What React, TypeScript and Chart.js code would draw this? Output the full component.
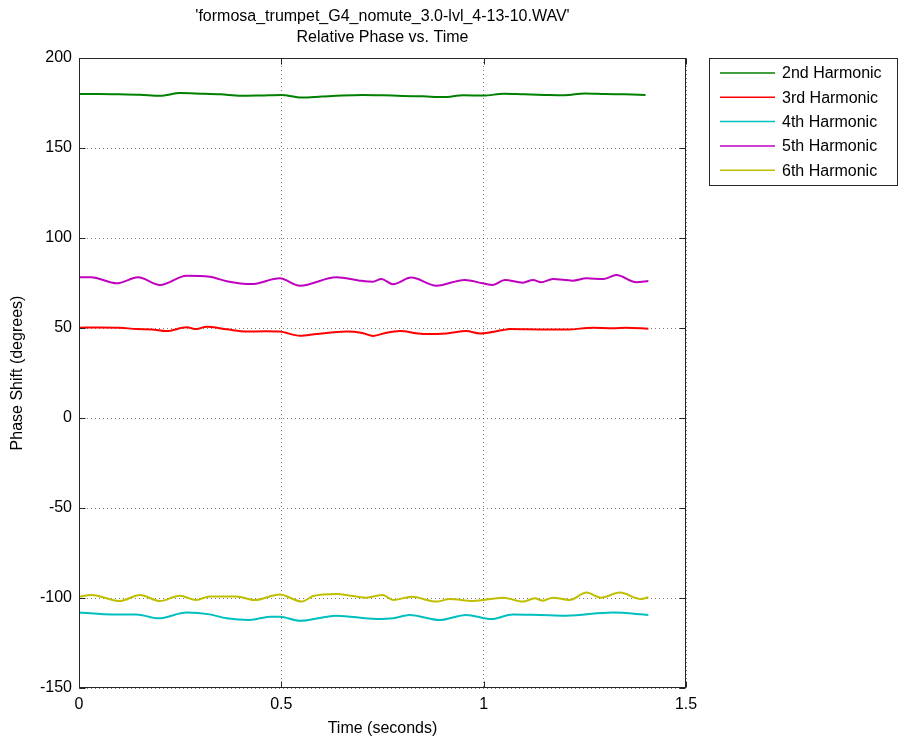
import { useEffect, useRef } from "react";
import { Chart, registerables } from "chart.js";

Chart.register(...registerables);

const TITLE_LINES = ["'formosa_trumpet_G4_nomute_3.0-lvl_4-13-10.WAV'", "Relative Phase vs. Time"];
const X_LABEL = "Time (seconds)";
const Y_LABEL = "Phase Shift (degrees)";
const X_TICKS = [0, 0.5, 1, 1.5];
const Y_TICKS = [-150, -100, -50, 0, 50, 100, 150, 200];

const SERIES_NAMES = ["2nd Harmonic", "3rd Harmonic", "4th Harmonic", "5th Harmonic", "6th Harmonic"];
const SERIES_COLORS = ["#008000", "#ff0000", "#00bfbf", "#bf00bf", "#bfbf00"];

// 2nd harmonic
const H2_T = [0, 0.05, 0.1, 0.15, 0.2, 0.25, 0.3, 0.35, 0.4, 0.45, 0.5, 0.55, 0.6, 0.65, 0.7, 0.75, 0.8, 0.85, 0.9, 0.95, 1.0, 1.05, 1.1, 1.15, 1.2, 1.25, 1.3, 1.35, 1.4];
const H2_V = [180, 180, 179.8, 179.6, 179, 180.5, 180.2, 179.8, 179, 179.2, 179.5, 178, 178.6, 179.2, 179.5, 179.3, 178.9, 178.7, 178.3, 179.3, 179.1, 180.2, 179.8, 179.5, 179.3, 180.3, 180, 179.8, 179.5];

// 3rd harmonic
const H3_T = [0, 0.05, 0.1, 0.142, 0.18, 0.216, 0.266, 0.29, 0.315, 0.365, 0.414, 0.46, 0.496, 0.546, 0.587, 0.661, 0.7, 0.727, 0.76, 0.793, 0.85, 0.908, 0.957, 0.99, 1.048, 1.064, 1.155, 1.204, 1.27, 1.319, 1.352, 1.407];
const H3_V = [50.2, 50.3, 50.2, 49.4, 49.2, 48.3, 50.4, 49.4, 50.7, 49.3, 48, 48.2, 48, 45.7, 46.7, 48, 47.2, 45.6, 47.4, 48.3, 46.7, 47, 48.3, 47, 48.9, 49.4, 49.1, 49.1, 50.2, 49.8, 50.2, 49.6];

// 4th harmonic
const H4_T = [0, 0.085, 0.142, 0.196, 0.266, 0.323, 0.365, 0.422, 0.472, 0.496, 0.546, 0.636, 0.735, 0.776, 0.817, 0.891, 0.957, 1.019, 1.072, 1.138, 1.204, 1.319, 1.407];
const H4_V = [-108, -109.1, -109.1, -111.3, -108.1, -109.1, -111.3, -112.2, -110.4, -110.4, -112.6, -109.8, -111.7, -111.3, -109.4, -112.2, -109.4, -111.7, -109.1, -109.4, -109.8, -108.1, -109.4];

// 5th harmonic
const H5_T = [0, 0.03, 0.093, 0.146, 0.2, 0.266, 0.323, 0.365, 0.426, 0.496, 0.546, 0.636, 0.694, 0.726, 0.747, 0.776, 0.821, 0.883, 0.953, 0.998, 1.023, 1.052, 1.097, 1.122, 1.142, 1.171, 1.22, 1.254, 1.295, 1.328, 1.377, 1.407];
const H5_V = [78.2, 78.2, 74.8, 78.2, 73.9, 79, 78.5, 76, 74.4, 77.6, 73.5, 78.2, 76.3, 75.7, 77.2, 74.3, 78, 73.5, 76.7, 74.8, 73.9, 76.7, 75.2, 76.7, 75.4, 77.2, 76.3, 77.6, 77.2, 79.4, 75.4, 76.1];

// 6th harmonic
const H6_T = [0, 0.031, 0.1, 0.151, 0.2, 0.249, 0.29, 0.323, 0.389, 0.434, 0.496, 0.55, 0.579, 0.636, 0.677, 0.71, 0.751, 0.776, 0.822, 0.883, 0.916, 0.974, 1.048, 1.097, 1.126, 1.146, 1.171, 1.212, 1.254, 1.29, 1.336, 1.389, 1.407];
const H6_V = [-99.3, -98.3, -101.7, -98.3, -101.7, -98.7, -101.1, -99.1, -99.1, -101.1, -98, -102, -98.9, -97.8, -98.9, -99.8, -98.3, -101.1, -99.3, -102, -100.6, -101.7, -99.8, -102, -100.2, -101.5, -99.8, -101.1, -97, -99.8, -97, -100.6, -99.6];

const SERIES_T = [H2_T, H3_T, H4_T, H5_T, H6_T];
const SERIES_V = [H2_V, H3_V, H4_V, H5_V, H6_V];

const FONT = "'Liberation Sans', Arial, Helvetica, sans-serif";
const AXIS_COLOR = "#262626";

// Boxed axes with inward tick marks, plus a boxed legend to the right of the plot
const framePlugin = {
  id: "frame",
  afterDraw(chart: any) {
    const { ctx, chartArea: a, scales } = chart;
    const xs = scales.x;
    const ys = scales.y;
    ctx.save();
    ctx.strokeStyle = AXIS_COLOR;
    ctx.lineWidth = 1;
    const L = Math.round(a.left) + 0.5;
    const R = Math.round(a.right) - 0.5;
    const T = Math.round(a.top) + 0.5;
    const B = Math.round(a.bottom) - 0.5;
    ctx.strokeRect(L, T, R - L, B - T);
    const tick = 6;
    ctx.beginPath();
    for (const v of X_TICKS) {
      const px = Math.round(xs.getPixelForValue(v)) + 0.5;
      ctx.moveTo(px, B);
      ctx.lineTo(px, B - tick);
      ctx.moveTo(px, T);
      ctx.lineTo(px, T + tick);
    }
    for (const v of Y_TICKS) {
      const py = Math.round(ys.getPixelForValue(v)) + 0.5;
      ctx.moveTo(L, py);
      ctx.lineTo(L + tick, py);
      ctx.moveTo(R, py);
      ctx.lineTo(R - tick, py);
    }
    ctx.stroke();

    // legend
    const lx = 709.5;
    const ly = 58.5;
    const lw = 188;
    const lh = 127;
    ctx.fillStyle = "#ffffff";
    ctx.fillRect(lx, ly, lw, lh);
    ctx.strokeStyle = AXIS_COLOR;
    ctx.strokeRect(lx, ly, lw, lh);
    ctx.font = `16px ${FONT}`;
    ctx.textBaseline = "middle";
    ctx.textAlign = "left";
    chart.data.datasets.forEach((ds: any, i: number) => {
      const y = 73 + i * 24.3;
      ctx.strokeStyle = ds.borderColor;
      ctx.lineWidth = 1.5;
      ctx.beginPath();
      ctx.moveTo(720, y);
      ctx.lineTo(775, y);
      ctx.stroke();
      ctx.fillStyle = "#000000";
      ctx.fillText(ds.label, 782, y + 1);
    });
    ctx.restore();
  },
};

export default function App() {
  const canvasRef = useRef<HTMLCanvasElement | null>(null);

  useEffect(() => {
    const canvas = canvasRef.current;
    if (!canvas) return;
    const datasets = SERIES_NAMES.map((name, i) => ({
      label: name,
      data: SERIES_T[i].map((t, k) => ({ x: t, y: SERIES_V[i][k] })),
      borderColor: SERIES_COLORS[i],
      backgroundColor: SERIES_COLORS[i],
      borderWidth: 2,
      pointRadius: 0,
      fill: false,
      cubicInterpolationMode: "monotone" as const,
    }));

    const chart = new Chart(canvas, {
      type: "line",
      data: { datasets },
      plugins: [framePlugin],
      options: {
        animation: false,
        responsive: false,
        maintainAspectRatio: false,
        layout: { padding: { left: 0, right: 218, top: 0, bottom: 0 } },
        plugins: {
          legend: { display: false },
          tooltip: { enabled: false },
          title: {
            display: true,
            text: TITLE_LINES,
            fullSize: false,
            color: "#000000",
            font: { family: FONT, size: 16, weight: "normal", lineHeight: 1.3 },
            padding: { top: 6, bottom: 10.4 },
          },
        },
        scales: {
          x: {
            type: "linear",
            min: 0,
            max: 1.5,
            afterBuildTicks: (scale: any) => {
              scale.ticks = X_TICKS.map((v) => ({ value: v }));
            },
            afterFit: (scale: any) => {
              scale.height = 54;
            },
            ticks: {
              color: "#000000",
              font: { family: FONT, size: 16 },
              padding: 7,
              maxRotation: 0,
              autoSkip: false,
              callback: (v: any) => String(v),
            },
            grid: {
              drawTicks: false,
              color: "rgba(0,0,0,0.5)",
              lineWidth: 1,
            },
            border: { display: false, dash: [1, 3] },
            title: {
              display: true,
              text: X_LABEL,
              color: "#000000",
              font: { family: FONT, size: 16 },
              padding: { top: 0, bottom: 4 },
            },
          },
          y: {
            type: "linear",
            min: -150,
            max: 200,
            afterBuildTicks: (scale: any) => {
              scale.ticks = Y_TICKS.map((v) => ({ value: v }));
            },
            afterFit: (scale: any) => {
              scale.width = 79;
            },
            ticks: {
              color: "#000000",
              font: { family: FONT, size: 16 },
              padding: 7,
              autoSkip: false,
              callback: (v: any) => String(v),
            },
            grid: {
              drawTicks: false,
              color: "rgba(0,0,0,0.5)",
              lineWidth: 1,
            },
            border: { display: false, dash: [1, 3] },
            title: {
              display: true,
              text: Y_LABEL,
              color: "#000000",
              font: { family: FONT, size: 16 },
              padding: { top: 8, bottom: 0 },
            },
          },
        },
      },
    });
    return () => chart.destroy();
  }, []);

  return (
    <div style={{ position: "absolute", left: 0, top: 0, width: 904, height: 742, background: "#ffffff" }}>
      <canvas ref={canvasRef} width={904} height={742} style={{ display: "block" }} />
    </div>
  );
}
